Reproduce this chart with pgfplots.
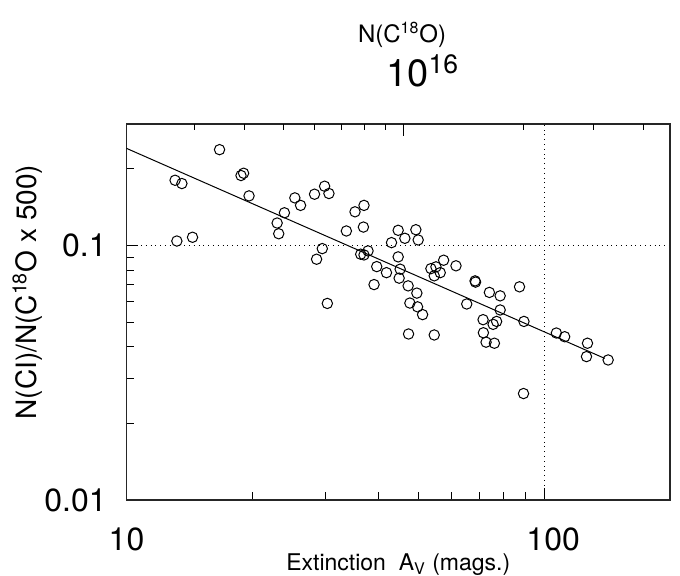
\documentclass[border=0pt]{standalone}
\usepackage{fontspec}
\setmainfont{TeX Gyre Heros}
\usepackage{pgfplots}
\usepackage{pgfplotstable}
\pgfplotsset{compat=1.18}
\usetikzlibrary{calc}

% extinction A_V versus N(CI)/N(C18O x 500)
\pgfplotstableread{
av     ratio
13.07  0.1804
13.57  0.1751
13.20  0.1041
14.39  0.1077
16.70  0.2379
18.80  0.1883
19.07  0.1922
19.65  0.1566
22.94  0.1225
23.14  0.1112
23.88  0.1344
25.29  0.1538
26.10  0.1437
28.19  0.1590
29.80  0.1709
30.52  0.1600
29.42  0.0972
28.51  0.0883
30.25  0.0592
33.60  0.1140
35.24  0.1356
37.03  0.1437
36.91  0.1181
36.36  0.0924
37.03  0.0918
37.86  0.0952
39.72  0.0826
41.91  0.0782
39.14  0.0702
43.09  0.1026
44.70  0.1147
46.38  0.1067
49.28  0.1153
49.91  0.1051
44.70  0.0902
45.19  0.0807
44.94  0.0744
47.22  0.0694
49.55  0.0650
47.68  0.0594
49.74  0.0574
51.14  0.0535
47.33  0.0449
54.53  0.0445
57.43  0.0875
61.48  0.0832
53.54  0.0811
55.05  0.0824
54.53  0.0760
56.36  0.0782
68.30  0.0726
68.48  0.0718
65.23  0.0589
73.91  0.0654
78.43  0.0634
87.25  0.0688
78.43  0.0558
71.38  0.0511
75.44  0.0490
76.91  0.0503
71.51  0.0454
72.57  0.0417
75.98  0.0413
89.41  0.0503
89.20  0.0262
106.9  0.0453
111.9  0.0438
126.9  0.0413
126.2  0.0366
142.2  0.0355
}\ratiodata

\begin{document}
\begin{tikzpicture}
\begin{axis}[
  name=main,
  scale only axis,
  width=271.75pt, height=188pt,
  xmode=log, ymode=log,
  xmin=10, xmax=200, ymin=0.01, ymax=0.3,
  xtick={10,100}, xticklabels={10,\hphantom{0}100},
  minor xtick={20,30,40,50,60,70,80,90},
  ytick={0.01,0.1}, yticklabels={0.01,0.1},
  minor ytick={0.02,0.03,0.04,0.05,0.06,0.07,0.08,0.09,0.2},
  xtick pos=bottom, ytick pos=left,
  tick align=inside,
  major tick length=6pt, minor tick length=4pt,
  grid=major,
  major grid style={dotted, black, line width=0.5pt},
  axis line style={line width=0.7pt, black!85},
  every tick/.style={black, line width=0.5pt},
  /pgf/number format/assume math mode=true,
  xticklabel style={font=\fontsize{16}{16}\selectfont, inner sep=0pt, yshift=-13.5pt},
  yticklabel style={font=\fontsize{16}{16}\selectfont, inner sep=0pt, xshift=-9.75pt},
  xlabel={Extinction\ \ A\textsubscript{V} (mags.)},
  xlabel style={font=\fontsize{11.5}{11.5}\selectfont, at={(axis description cs:0.5,-0.172)}, anchor=center},
  ylabel={N(CI)/N(C\textsuperscript{18}O x 500)},
  ylabel style={font=\fontsize{14}{14}\selectfont, at={(axis description cs:-0.182,0.553)}, anchor=center},
  clip=false,
]
\addplot[black, line width=0.5pt] coordinates {(10,0.2407) (139.6,0.0360)};
\addplot[only marks, mark=o, mark size=2.6pt, mark options={black, line width=0.5pt}] table[x=av, y=ratio] {\ratiodata};
% top scale N(C18O): short ticks, a long one at 10^16
\pgfplotsinvokeforeach{14.53,19.15,23.75,28.19,32.73,37.18,41.75,89.06,131.1,172.9}{
  \draw[black, line width=0.5pt] (axis cs:#1,0.3) -- (axis cs:#1,0.284);
}
\draw[black, line width=0.5pt] (axis cs:46.13,0.3) -- (axis cs:46.13,0.268);
\node[font=\fontsize{12}{12}\selectfont] at (axis description cs:0.507,1.237) {N(C\textsuperscript{18}O)};
\node[font=\fontsize{19}{19}\selectfont] at (axis description cs:0.545,1.141) {10\textsuperscript{16}};
\end{axis}
\pgfresetboundingbox
\path[use as bounding box] ($(main.south west)+(-63.25pt,-37.5pt)$) rectangle ($(main.north east)+(5pt,62pt)$);
\end{tikzpicture}
\end{document}
